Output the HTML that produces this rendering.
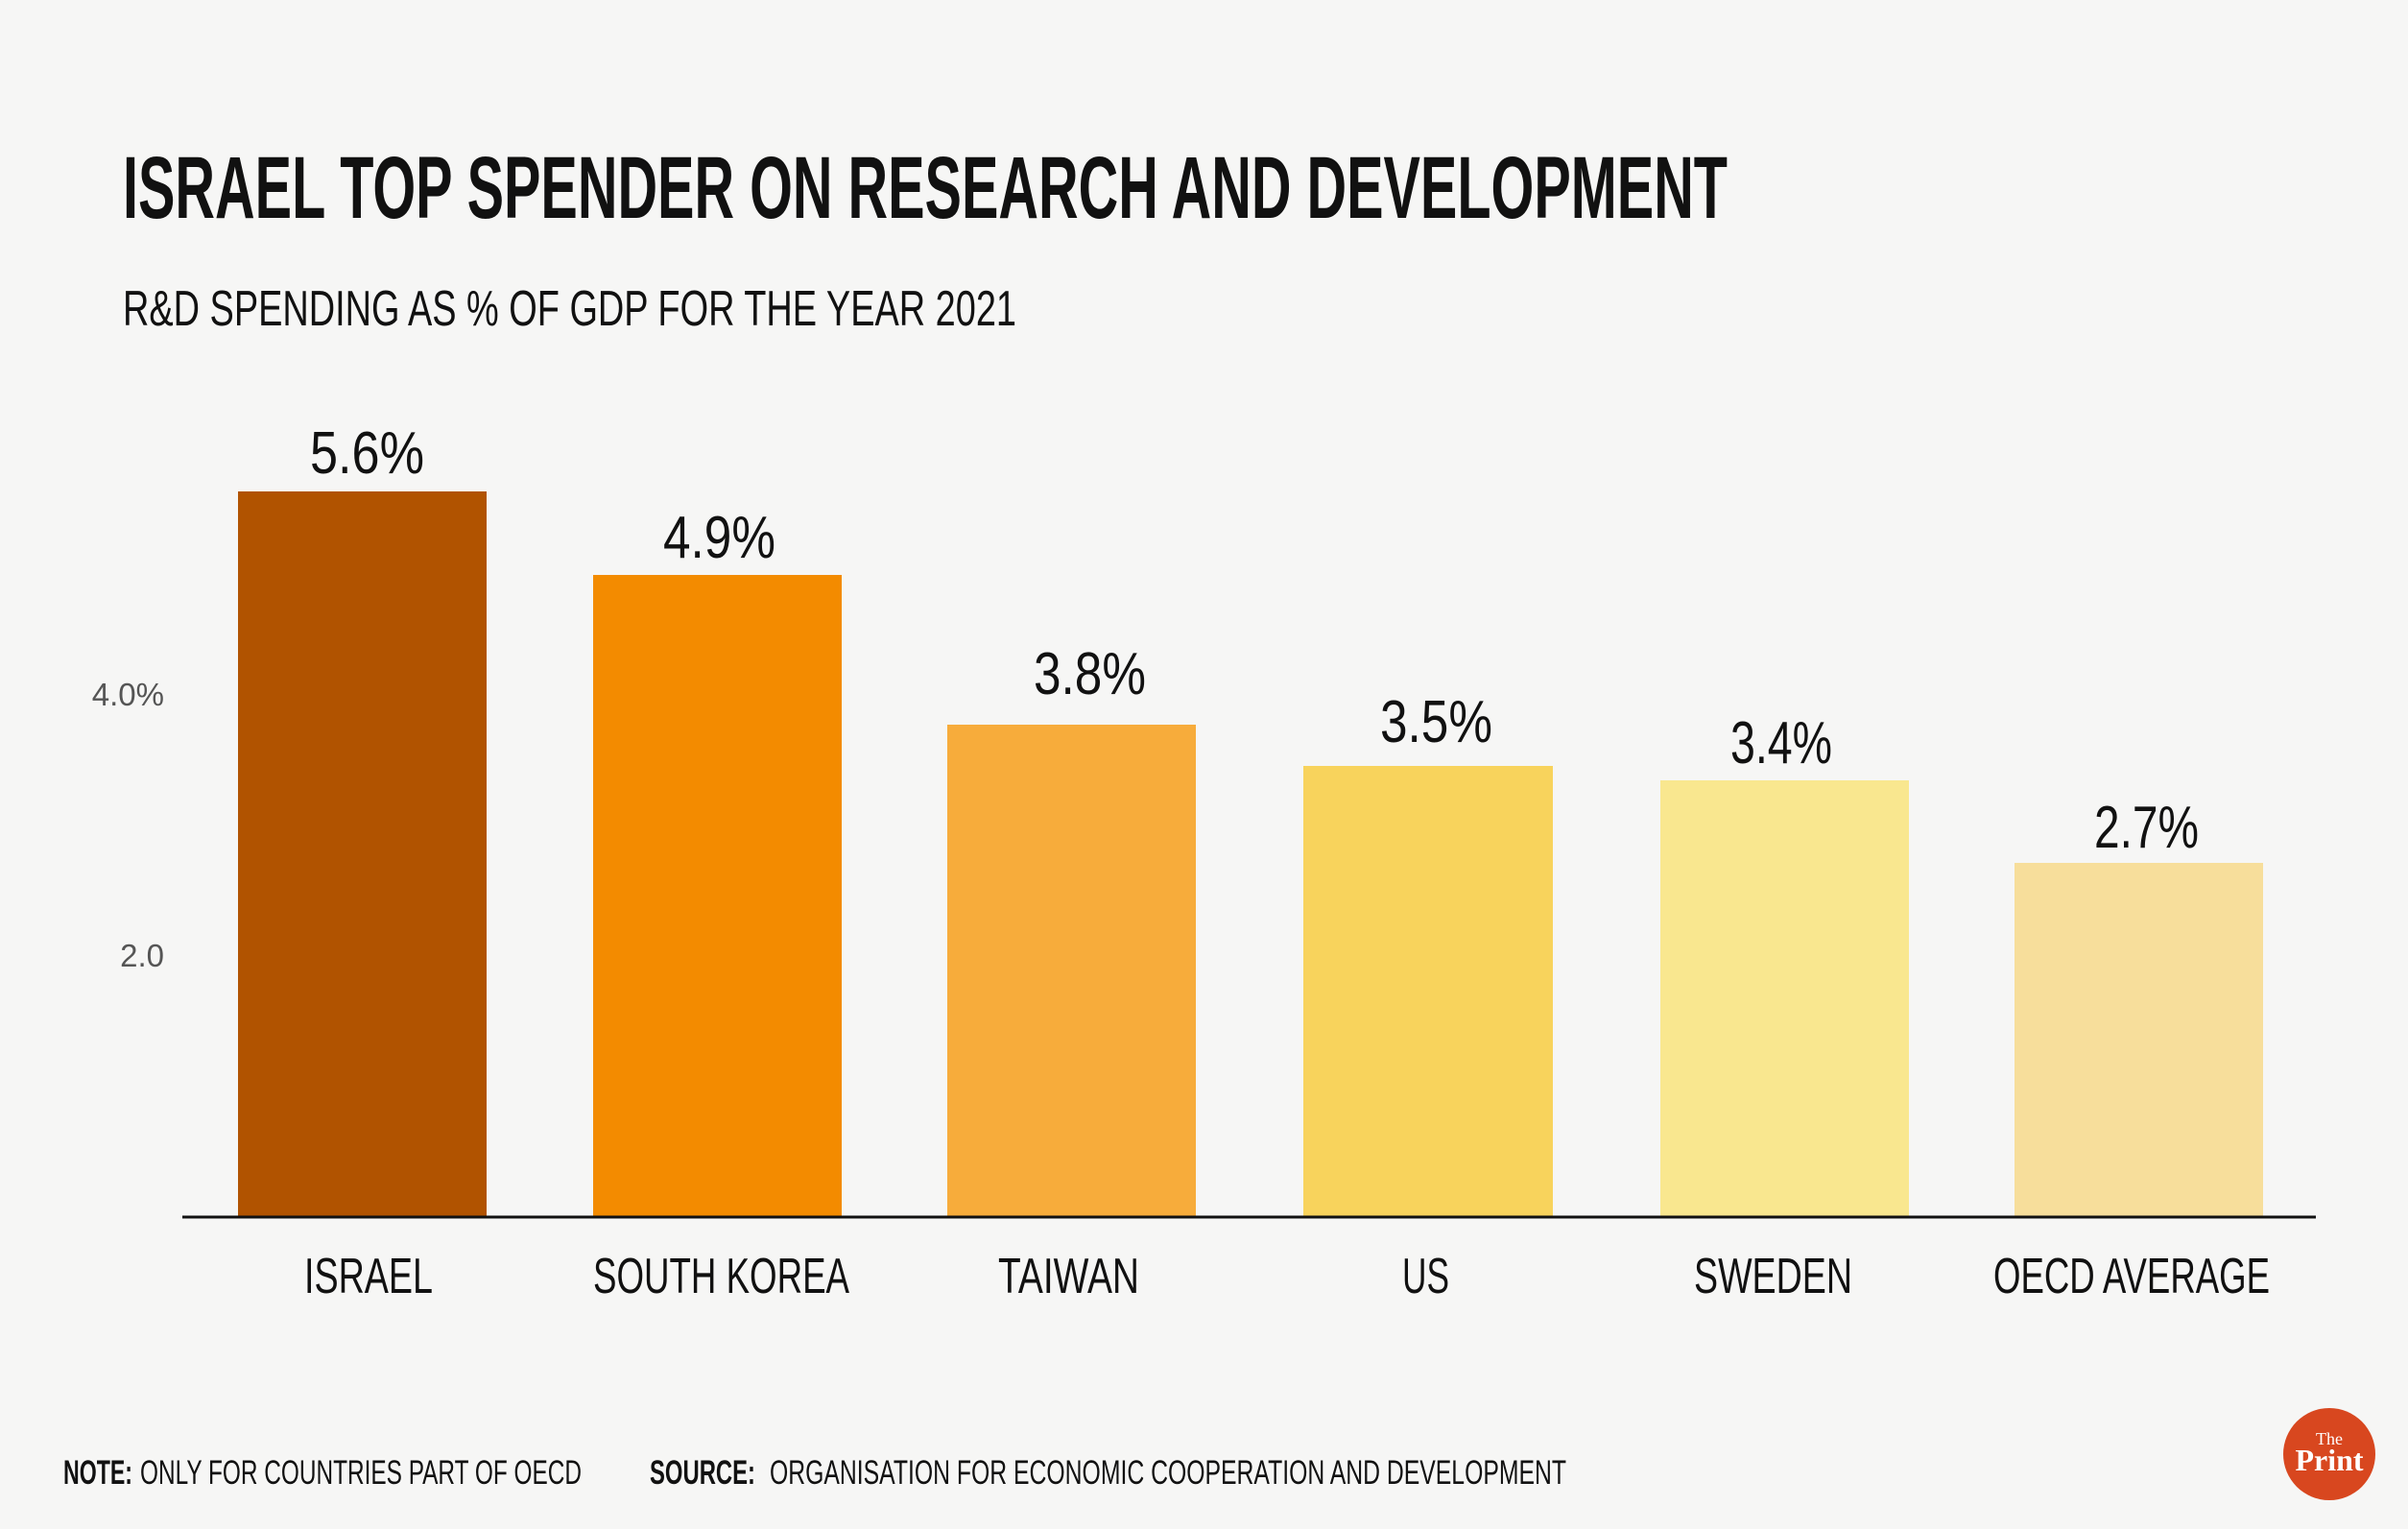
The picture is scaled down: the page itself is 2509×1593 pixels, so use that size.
<!DOCTYPE html>
<html><head><meta charset="utf-8"><style>
html,body{margin:0;padding:0;background:#f6f6f5;}
svg{display:block}
text{font-family:"Liberation Sans Narrow","Liberation Sans",sans-serif;fill:#111;}
</style></head><body>
<svg width="2509" height="1593" viewBox="0 0 2509 1593" xmlns="http://www.w3.org/2000/svg">
<rect width="2509" height="1593" fill="#f6f6f5"/>
<text x="128" y="227" font-size="92" font-weight="bold" textLength="1672" lengthAdjust="spacingAndGlyphs">ISRAEL TOP SPENDER ON RESEARCH AND DEVELOPMENT</text>
<text x="128" y="339" font-size="52" textLength="931" lengthAdjust="spacingAndGlyphs">R&amp;D SPENDING AS % OF GDP FOR THE YEAR 2021</text>

<text x="171" y="735" font-size="33" text-anchor="end" style="fill:#555;font-family:'Liberation Sans',sans-serif">4.0%</text>
<text x="171" y="1007" font-size="33" text-anchor="end" style="fill:#555;font-family:'Liberation Sans',sans-serif">2.0</text>

<rect x="248" y="512" width="259" height="755" fill="#b15300"/>
<rect x="618" y="599" width="259" height="668" fill="#f38b00"/>
<rect x="987" y="755" width="259" height="512" fill="#f7ac3b"/>
<rect x="1358" y="798" width="260" height="469" fill="#f8d35c"/>
<rect x="1730" y="813" width="259" height="454" fill="#f9e78f"/>
<rect x="2099" y="899" width="259" height="368" fill="#f7de9b"/>
<line x1="190" y1="1268" x2="2413" y2="1268" stroke="#111" stroke-width="3"/>

<g font-size="62">
<text x="323" y="493" textLength="119" lengthAdjust="spacingAndGlyphs">5.6%</text>
<text x="691" y="581" textLength="117" lengthAdjust="spacingAndGlyphs">4.9%</text>
<text x="1077" y="723" textLength="117" lengthAdjust="spacingAndGlyphs">3.8%</text>
<text x="1438" y="773" textLength="117" lengthAdjust="spacingAndGlyphs">3.5%</text>
<text x="1803" y="795" textLength="106" lengthAdjust="spacingAndGlyphs">3.4%</text>
<text x="2182" y="883" textLength="109" lengthAdjust="spacingAndGlyphs">2.7%</text>
</g>

<g font-size="52">
<text x="317" y="1347" textLength="134" lengthAdjust="spacingAndGlyphs">ISRAEL</text>
<text x="618" y="1347" textLength="267" lengthAdjust="spacingAndGlyphs">SOUTH KOREA</text>
<text x="1040" y="1347" textLength="147" lengthAdjust="spacingAndGlyphs">TAIWAN</text>
<text x="1461" y="1347" textLength="49" lengthAdjust="spacingAndGlyphs">US</text>
<text x="1765" y="1347" textLength="165" lengthAdjust="spacingAndGlyphs">SWEDEN</text>
<text x="2077" y="1347" textLength="288" lengthAdjust="spacingAndGlyphs">OECD AVERAGE</text>
</g>

<g font-size="35">
<text x="66" y="1546" font-weight="bold" textLength="72" lengthAdjust="spacingAndGlyphs">NOTE:</text>
<text x="146" y="1546" textLength="460" lengthAdjust="spacingAndGlyphs">ONLY FOR COUNTRIES PART OF OECD</text>
<text x="677" y="1546" font-weight="bold" textLength="110" lengthAdjust="spacingAndGlyphs">SOURCE:</text>
<text x="802" y="1546" textLength="830" lengthAdjust="spacingAndGlyphs">ORGANISATION FOR ECONOMIC COOPERATION AND DEVELOPMENT</text>
</g>

<circle cx="2427" cy="1515" r="48" fill="#d8471f"/>
<text x="2427" y="1505" font-size="18" text-anchor="middle" style="fill:#fff;font-family:'Liberation Serif',serif">The</text>
<text x="2427" y="1532" font-size="32" font-weight="bold" text-anchor="middle" style="fill:#fff;font-family:'Liberation Serif',serif">Print</text>
</svg>
</body></html>
